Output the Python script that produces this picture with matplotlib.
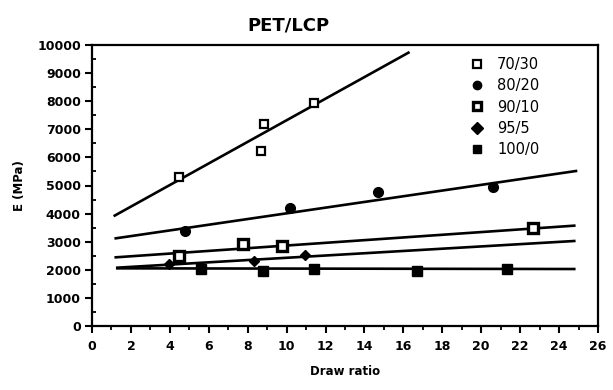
import matplotlib
matplotlib.use("Agg")
import matplotlib.pyplot as plt
from matplotlib.ticker import MultipleLocator

# ---- data ----
labels = ["70/30", "80/20", "90/10", "95/5", "100/0"]

x_7030 = [4.47, 8.66, 8.83, 11.43]
y_7030 = [5300, 6230, 7180, 7950]

x_8020 = [4.8, 10.19, 14.71, 20.6]
y_8020 = [3370, 4210, 4760, 4960]

x_9010 = [4.47, 7.76, 9.74, 22.66]
y_9010 = [2490, 2930, 2850, 3490]

x_955 = [3.97, 8.33, 10.97]
y_955 = [2220, 2325, 2540]

x_1000 = [5.62, 8.78, 11.39, 16.71, 21.32]
y_1000 = [2020, 1970, 2030, 1945, 2040]

# fitted trend lines (start / end) per series
fit_x0 = [1.17, 1.22, 1.22, 1.30, 1.30]
fit_x1 = [16.26, 24.87, 24.78, 24.78, 24.78]
fit_y0 = [3930, 3120, 2444, 2076, 2052]
fit_y1 = [9727, 5516, 3571, 3025, 2028]

xticks = list(range(0, 27, 2))
yticks = list(range(0, 10001, 1000))

# ---- figure ----
fig = plt.figure(figsize=(6.13, 3.90), dpi=100)
ax = fig.add_axes([92/613, 1-326/390, (598-92)/613, (326-45)/390])

xs = [x_7030, x_8020, x_9010, x_955, x_1000]
ys = [y_7030, y_8020, y_9010, y_955, y_1000]
styles = [
    dict(marker="s", ms=6, mfc="white", mec="black", mew=1.6),
    dict(marker="o", ms=7, mfc="black", mec="black", mew=1.0),
    dict(marker="s", ms=7, mfc="white", mec="black", mew=2.4),
    dict(marker="D", ms=5, mfc="black", mec="black", mew=1.0),
    dict(marker="s", ms=7.5, mfc="black", mec="black", mew=1.0),
]

for i in range(5):
    ax.plot([fit_x0[i], fit_x1[i]], [fit_y0[i], fit_y1[i]], color="black", lw=1.9, zorder=2)

handles = []
for i in range(5):
    h, = ax.plot(xs[i], ys[i], linestyle="none", color="black", zorder=3, label=labels[i], **styles[i])
    handles.append(h)

ax.set_xlim(0, 26)
ax.set_ylim(0, 10000)
ax.set_xticks(xticks)
ax.set_yticks(yticks)
ax.xaxis.set_minor_locator(MultipleLocator(1))
ax.yaxis.set_minor_locator(MultipleLocator(500))

tickfont = dict(family="DejaVu Sans", weight="bold", size=9)
ax.set_xticklabels([str(t) for t in xticks], **tickfont)
ax.set_yticklabels([str(t) for t in yticks], **tickfont)

ax.tick_params(axis="x", which="major", direction="out", length=5, width=1.5, pad=5)
ax.tick_params(axis="x", which="minor", direction="out", length=3, width=1.3)
ax.tick_params(axis="y", which="major", direction="out", length=5, width=1.5, pad=3)
ax.tick_params(axis="y", which="minor", direction="in", length=3, width=1.3)

for s in ax.spines.values():
    s.set_linewidth(1.6)

ax.set_xlabel("Draw ratio", fontfamily="DejaVu Sans", fontweight="bold", fontsize=8.5, labelpad=9)
ax.set_ylabel("E (MPa)", fontfamily="DejaVu Sans", fontweight="bold", fontsize=8.5, labelpad=8)
fig.text(288/613, 1-25/390, "PET/LCP", ha="center", va="center",
         fontfamily="DejaVu Sans", fontweight="bold", fontsize=13)

leg = ax.legend(handles=handles, loc="upper left", bbox_to_anchor=(462/613, 1-50/390),
                bbox_transform=fig.transFigure, frameon=False,
                prop=dict(family="DejaVu Sans", size=10.5),
                handlelength=1.0, handletextpad=0.9, labelspacing=0.42, borderpad=0)
for h in leg.legend_handles:
    h.set_markersize(6)

fig.savefig("out.png", dpi=100)
